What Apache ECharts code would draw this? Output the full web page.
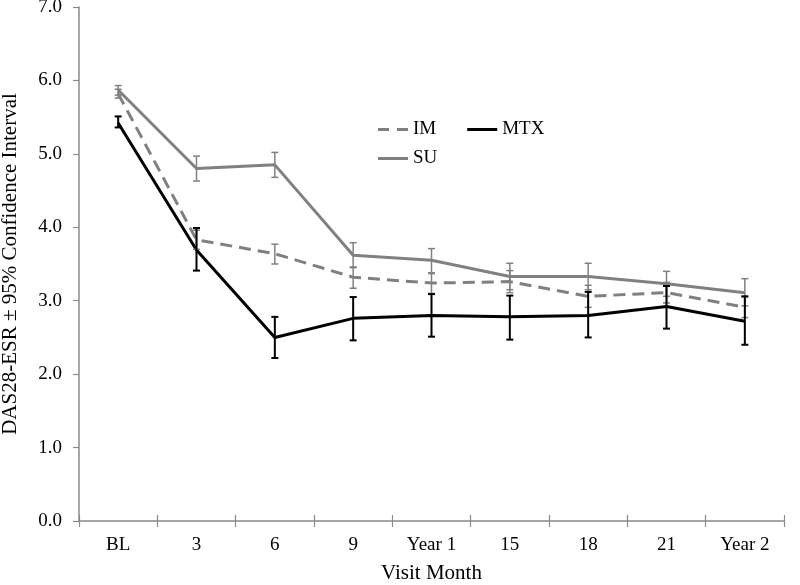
<!DOCTYPE html>
<html><head><meta charset="utf-8">
<script src="https://cdn.jsdelivr.net/npm/echarts@6/dist/echarts.min.js"></script>
<style>html,body{margin:0;padding:0;background:#fff}#c{width:800px;height:585px}</style>
</head><body><div id="c"></div>
<script>
var categories = ['BL','3','6','9','Year 1','15','18','21','Year 2'];
var imMean = [5.82,3.83,3.64,3.32,3.24,3.26,3.06,3.11,2.91];
var imLow  = [5.76,3.70,3.50,3.17,3.10,3.11,2.91,2.97,2.77];
var imHigh = [5.88,3.96,3.77,3.46,3.38,3.41,3.21,3.25,3.05];
var mtxMean = [5.42,3.69,2.50,2.76,2.80,2.78,2.80,2.92,2.72];
var mtxLow  = [5.36,3.41,2.22,2.46,2.51,2.47,2.50,2.62,2.40];
var mtxHigh = [5.51,3.99,2.78,3.05,3.09,3.07,3.12,3.20,3.06];
var suMean = [5.87,4.80,4.85,3.62,3.55,3.33,3.33,3.23,3.11];
var suLow  = [5.80,4.63,4.68,3.45,3.37,3.15,3.15,3.06,2.93];
var suHigh = [5.93,4.97,5.02,3.79,3.71,3.51,3.51,3.40,3.30];
var yTicks = ['0.0','1.0','2.0','3.0','4.0','5.0','6.0','7.0'];

var GRAY = '#808080', AXIS = '#8a8a8a', BLACK = '#000000';
var FONT = 'Liberation Serif';

function errData(low, high) {
  return categories.map(function (c, i) { return [i, low[i], high[i]]; });
}
function errSeries(name, low, high, color, width) {
  return {
    type: 'custom', name: name + ' CI', silent: true, z: 5,
    data: errData(low, high),
    encode: { x: 0, y: [1, 2] },
    renderItem: function (params, api) {
      var x = api.value(0);
      var lo = api.coord([x, api.value(1)]);
      var hi = api.coord([x, api.value(2)]);
      var hw = 3.5;
      var st = { stroke: color, lineWidth: width };
      return {
        type: 'group',
        children: [
          { type: 'line', shape: { x1: lo[0], y1: lo[1], x2: hi[0], y2: hi[1] }, style: st },
          { type: 'line', shape: { x1: lo[0] - hw, y1: lo[1], x2: lo[0] + hw, y2: lo[1] }, style: st },
          { type: 'line', shape: { x1: hi[0] - hw, y1: hi[1], x2: hi[0] + hw, y2: hi[1] }, style: st }
        ]
      };
    }
  };
}

var legendText = { fontFamily: FONT, fontSize: 19, color: '#000', padding: [0, 0, 0, 0] };
var dashIcon = 'path://M0,0 L11,0 L11,3 L0,3 Z M19,0 L30,0 L30,3 L19,3 Z';
var lineIcon = 'path://M0,0 L30,0 L30,3 L0,3 Z';

var chart = echarts.init(document.getElementById('c'), null, { renderer: 'canvas' });
chart.setOption({
  animation: false,
  backgroundColor: '#ffffff',
  textStyle: { fontFamily: FONT },
  grid: { left: 79, right: 16, top: 7, bottom: 64, containLabel: false, outerBoundsMode: 'none' },
  legend: [
    { left: 378, top: 120, itemGap: 31, itemWidth: 30, itemHeight: 3, padding: 0,
      textStyle: legendText,
      data: [ { name: 'IM', icon: dashIcon }, { name: 'MTX', icon: lineIcon } ] },
    { left: 378, top: 149, itemWidth: 30, itemHeight: 3, padding: 0,
      textStyle: legendText,
      data: [ { name: 'SU', icon: lineIcon } ] }
  ],
  xAxis: [{
    type: 'category', data: categories, boundaryGap: true,
    name: 'Visit Month', nameLocation: 'middle', nameGap: 42,
    nameTextStyle: { fontFamily: FONT, fontSize: 21, color: '#000' },
    axisLine: { lineStyle: { color: AXIS, width: 1.5 } },
    axisTick: { show: true, length: 6, lineStyle: { color: AXIS, width: 1.2 } },
    axisLabel: { fontFamily: FONT, fontSize: 19, color: '#000', margin: 15 },
    splitLine: { show: false }
  }, {
    type: 'category', data: categories, boundaryGap: true, position: 'bottom',
    axisLine: { show: false },
    axisTick: { show: true, inside: true, length: 6, lineStyle: { color: AXIS, width: 1.2 } },
    axisLabel: { show: false },
    splitLine: { show: false }
  }],
  yAxis: {
    type: 'value', min: 0, max: 7, interval: 1,
    name: 'DAS28-ESR \u00b1 95% Confidence Interval', nameLocation: 'middle', nameGap: 58,
    nameTextStyle: { fontFamily: FONT, fontSize: 21, color: '#000' },
    axisLine: { show: true, lineStyle: { color: AXIS, width: 1.5 } },
    axisTick: { show: true, length: 6, lineStyle: { color: AXIS, width: 1.2 } },
    axisLabel: { fontFamily: FONT, fontSize: 19, color: '#000', margin: 17,
      formatter: function (v) { return yTicks[Math.round(v)]; } },
    splitLine: { show: false }
  },
  series: [
    errSeries('SU', suLow, suHigh, GRAY, 1.5),
    errSeries('IM', imLow, imHigh, GRAY, 1.5),
    errSeries('MTX', mtxLow, mtxHigh, BLACK, 2),
    { name: 'IM', type: 'line', data: imMean, symbol: 'none', z: 3,
      itemStyle: { color: GRAY },
      lineStyle: { color: GRAY, width: 3, type: [12, 7] } },
    { name: 'MTX', type: 'line', data: mtxMean, symbol: 'none', z: 4,
      itemStyle: { color: BLACK },
      lineStyle: { color: BLACK, width: 3 } },
    { name: 'SU', type: 'line', data: suMean, symbol: 'none', z: 3,
      itemStyle: { color: GRAY },
      lineStyle: { color: GRAY, width: 3 } }
  ]
});
</script></body></html>
